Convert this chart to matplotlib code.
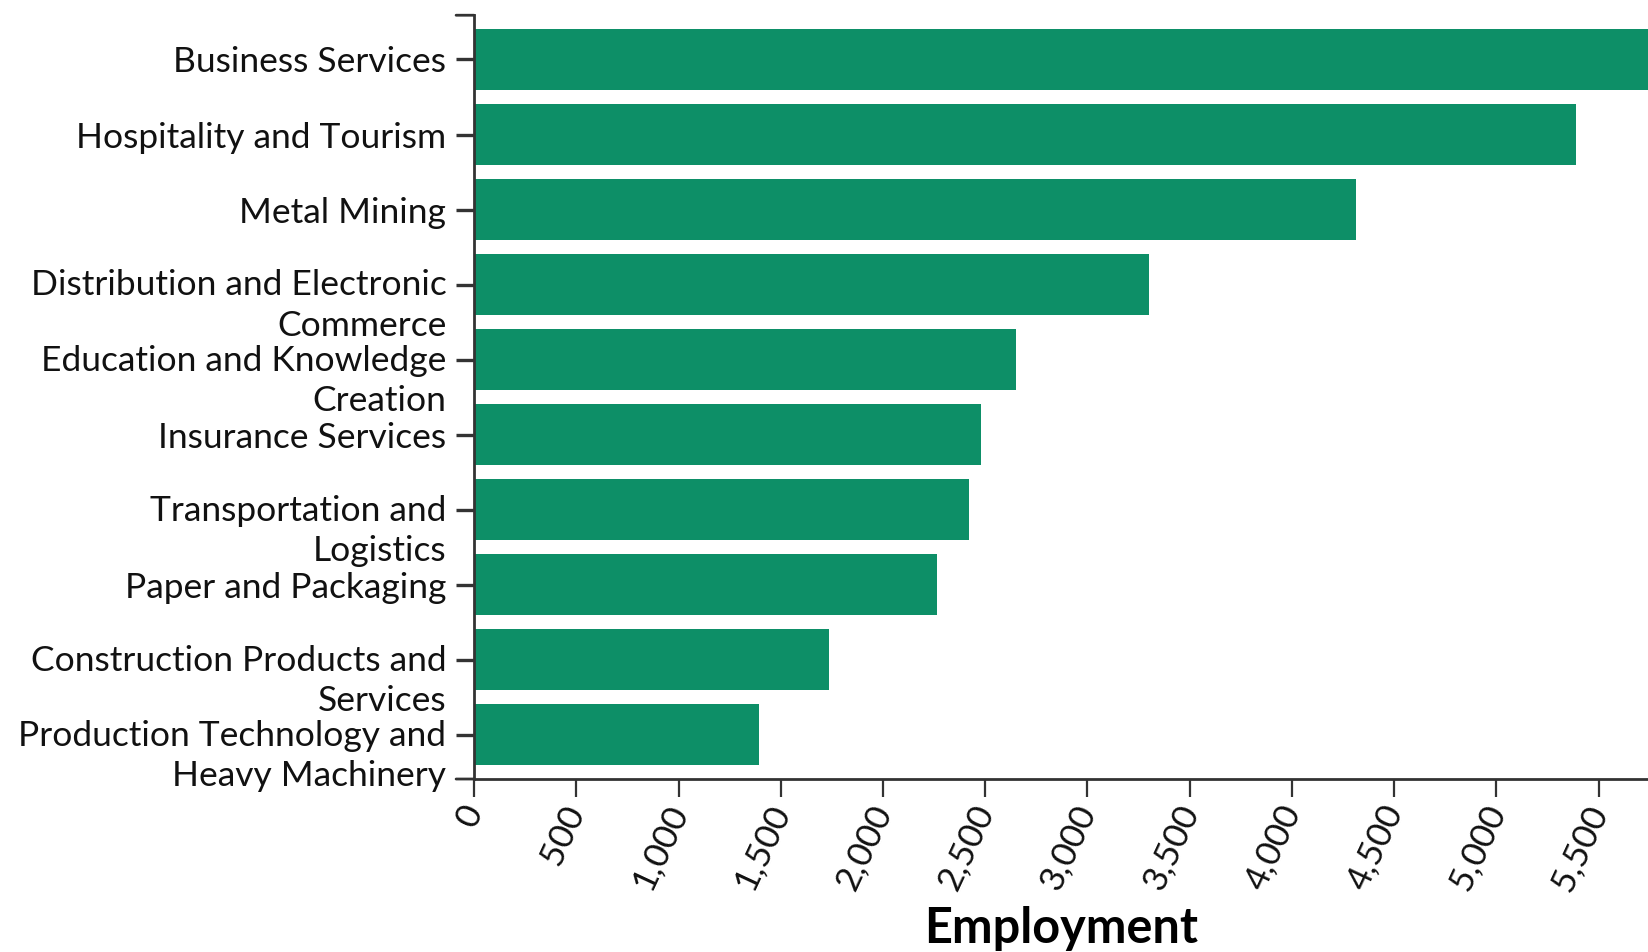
import matplotlib.pyplot as plt
from matplotlib.ticker import FuncFormatter, MultipleLocator
import matplotlib.transforms as mtransforms

plt.rcParams['font.family'] = ['Lato', 'DejaVu Sans']

# Employment by industry cluster
clusters = ['Business Services', 'Hospitality and Tourism', 'Metal Mining',
            'Distribution and Electronic\nCommerce',
            'Education and Knowledge\nCreation', 'Insurance Services',
            'Transportation and\nLogistics', 'Paper and Packaging',
            'Construction Products and\nServices',
            'Production Technology and\nHeavy Machinery']
employment = [5747, 5388, 4312, 3303, 2650, 2480, 2423, 2264, 1734, 1394]

bar_color = '#0d8f67'
axis_color = '#333333'
label_size = 25.5
wrap_shift = 10  # points: wrapped labels keep their first line on the tick

fig = plt.figure(figsize=(16.49, 9.52), dpi=100)
ax = fig.add_axes([0.2875, 0.1817, 0.7125, 0.8023])

ypos = list(range(len(clusters)))
ax.barh(ypos, employment, height=0.81, color=bar_color)

ax.set_ylim(len(clusters) - 0.41, -0.59)
ax.set_xlim(0, max(employment))

ax.xaxis.set_major_locator(MultipleLocator(500))
ax.xaxis.set_major_formatter(FuncFormatter(lambda v, p: f'{int(v):,}'))
ax.tick_params(axis='x', labelsize=label_size, labelrotation=65, length=13, width=1.6,
               color=axis_color, pad=7, labelcolor='#111111')
ax.tick_params(axis='y', length=13, width=2.4, color=axis_color, pad=7)
for lab in ax.get_xticklabels():
    lab.set_ha('right')
    lab.set_rotation_mode('anchor')
    lab.set_va('center')

ax.set_yticks(ypos)
ax.set_yticklabels(clusters, fontsize=label_size, color='#111111', linespacing=1.32)
shift = mtransforms.ScaledTranslation(0, -wrap_shift / 72, fig.dpi_scale_trans)
for tick in ax.yaxis.get_major_ticks():
    lab = tick.label1
    if '\n' in lab.get_text():
        lab.set_transform(lab.get_transform() + shift)

for side in ['top', 'right']:
    ax.spines[side].set_visible(False)
for side in ['left', 'bottom']:
    ax.spines[side].set_color(axis_color)
    ax.spines[side].set_linewidth(2)

# small stubs closing the y axis domain at top and bottom
for yy in (0, 1):
    ax.annotate('', xy=(0, yy), xycoords='axes fraction', xytext=(-18, 0),
                textcoords='offset pixels',
                arrowprops=dict(arrowstyle='-', color=axis_color, lw=2,
                                shrinkA=0, shrinkB=0))

ax.set_xlabel('Employment', fontsize=35, fontweight='bold', va='top')
ax.xaxis.set_label_coords(0.5, -0.166)

fig.savefig('out.png', dpi=100)
